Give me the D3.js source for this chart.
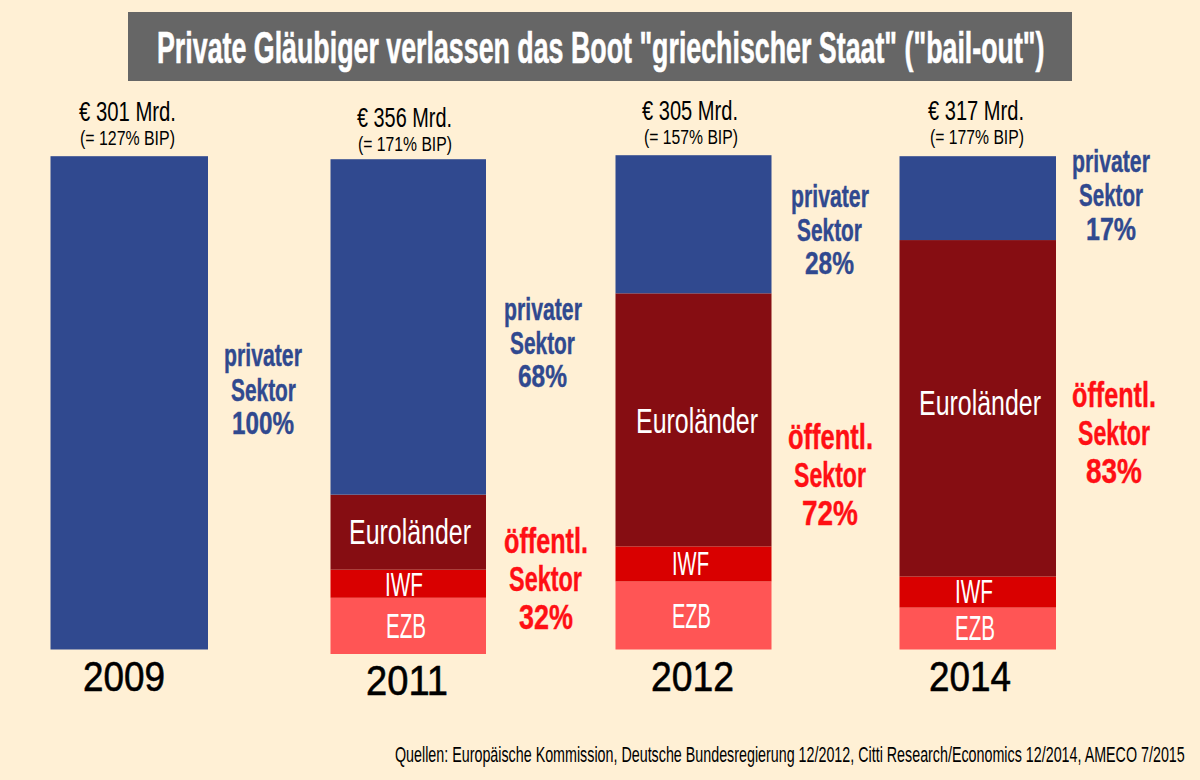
<!DOCTYPE html>
<html>
<head>
<meta charset="utf-8">
<script src="https://cdn.jsdelivr.net/npm/d3@7"></script>
<style>
  html, body { margin: 0; padding: 0; background: #fff0d5; }
  svg { display: block; }
  text { font-family: "Liberation Sans Narrow", "Liberation Sans", sans-serif; }
</style>
</head>
<body>
<svg></svg>
<script>
var titleText = 'Private Gläubiger verlassen das Boot "griechischer Staat" ("bail-out")';
var sourceText = "Quellen: Europäische Kommission, Deutsche Bundesregierung 12/2012, Citti Research/Economics 12/2014, AMECO 7/2015";

var years = ["2009", "2011", "2012", "2014"];
var debt = [301, 356, 305, 317];
var debtGdp = [127, 171, 157, 177];
var privat = [100, 68, 28, 17];
var oeffentl = [0, 32, 72, 83];
var euro = [0, 15.2, 51.3, 68.2];
var iwf = [0, 5.7, 7.1, 6.3];
var ezb = [0, 11.4, 13.8, 8.5];

var keys = ["EZB", "IWF", "Euroländer", "privat"];
var rows = years.map(function(y, i) {
  return { year: y, "EZB": ezb[i], "IWF": iwf[i], "Euroländer": euro[i], "privat": privat[i] };
});

// layout, all hand placed like in the original picture
var barLeft = [50.5, 330.5, 615.5, 899.5];
var barRight = [208, 486, 771.5, 1056];
var barBottom = [649.5, 654, 649.5, 649.5];
var barHeight = 493.3;

var yearBox = [[83, 165, 691], [366, 448, 695], [651, 734, 691], [929, 1011, 691]];
var debtBox = [[79, 176, 121], [357, 452, 127], [642, 738, 120], [928, 1024, 120]];
var gdpBox = [[80, 175, 145], [358, 452, 151], [644, 738, 144], [930, 1024, 144]];
var privBox = [
  [[224, 302, 366], [231, 296, 401], [232, 294, 434]],
  [[504, 582, 320], [510, 575, 354], [518, 567, 387]],
  [[791, 869, 207], [797, 862, 241], [805, 854, 274]],
  [[1072, 1150, 172], [1079, 1143, 206], [1086, 1136, 240]]
];
var pubBox = [
  null,
  [[504, 588, 553], [509, 582, 591], [519, 573, 629]],
  [[788, 873, 449], [794, 866, 487], [802, 858, 525]],
  [[1072, 1156, 407], [1078, 1150, 445], [1086, 1142, 483]]
];
var euroBox = [null, [349, 471, 544], [636, 758, 433], [919, 1041, 415]];
var iwfBox = [null, [385, 423, 596], [672, 709, 575], [955, 993, 603]];
var ezbBox = [null, [386, 426, 638], [672, 711, 628], [955, 995, 640]];

var color = d3.scaleOrdinal()
  .domain(keys)
  .range(["#ff5555", "#d90000", "#860d12", "#30498f"]);

var svg = d3.select("svg")
  .attr("width", 1200)
  .attr("height", 780);

svg.append("rect")
  .attr("width", 1200)
  .attr("height", 780)
  .attr("fill", "#fff0d5");

svg.append("rect")
  .attr("x", 128)
  .attr("y", 12)
  .attr("width", 944)
  .attr("height", 69)
  .attr("fill", "#666666");

var x0 = d3.scaleOrdinal().domain(years).range(barLeft);
var x1 = d3.scaleOrdinal().domain(years).range(barRight);
var bottom = d3.scaleOrdinal().domain(years).range(barBottom);
var h = d3.scaleLinear().domain([0, 100]).range([0, barHeight]);

var series = d3.stack().keys(keys)(rows);

var groups = svg.selectAll("g.layer")
  .data(series)
  .enter().append("g")
  .attr("class", "layer")
  .attr("fill", function(d) { return color(d.key); });

groups.selectAll("rect")
  .data(function(d) { return d; })
  .enter().append("rect")
  .attr("x", function(d) { return x0(d.data.year); })
  .attr("y", function(d) { return bottom(d.data.year) - h(d[1]); })
  .attr("width", function(d) { return x1(d.data.year) - x0(d.data.year); })
  .attr("height", function(d) { return h(d[1]) - h(d[0]); });

// text squeezed to the measured width, box = [left, right, baseline]
function label(str, box, size, fill, weight, thick) {
  var t = svg.append("text")
    .attr("font-size", size)
    .attr("font-weight", weight || "normal")
    .attr("fill", fill)
    .text(str);
  if (thick) {
    t.attr("stroke", fill).attr("stroke-width", thick);
  }
  var sx = (box[1] - box[0]) / t.node().getComputedTextLength();
  t.attr("transform", "translate(" + box[0] + "," + box[2] + ") scale(" + sx + ",1)");
}

label(titleText, [157, 1045, 63], 45, "#ffffff", "bold", 0.6);
label(sourceText, [395, 1185, 762], 22, "#000000");

years.forEach(function(y, i) {
  label(y, yearBox[i], 42, "#000000", "normal", 0.6);
  label("€ " + debt[i] + " Mrd.", debtBox[i], 28, "#000000");
  label("(= " + debtGdp[i] + "% BIP)", gdpBox[i], 21, "#000000");

  label("privater", privBox[i][0], 31, "#30498f", "bold", 0.4);
  label("Sektor", privBox[i][1], 31, "#30498f", "bold", 0.4);
  label(privat[i] + "%", privBox[i][2], 31, "#30498f", "bold", 0.4);

  if (oeffentl[i] > 0) {
    label("öffentl.", pubBox[i][0], 35, "#ff0f14", "bold", 0.4);
    label("Sektor", pubBox[i][1], 35, "#ff0f14", "bold", 0.4);
    label(oeffentl[i] + "%", pubBox[i][2], 35, "#ff0f14", "bold", 0.4);
    label("Euroländer", euroBox[i], 36, "#ffffff");
    label("IWF", iwfBox[i], 33, "#ffffff");
    label("EZB", ezbBox[i], 35, "#ffffff");
  }
});
</script>
</body>
</html>
